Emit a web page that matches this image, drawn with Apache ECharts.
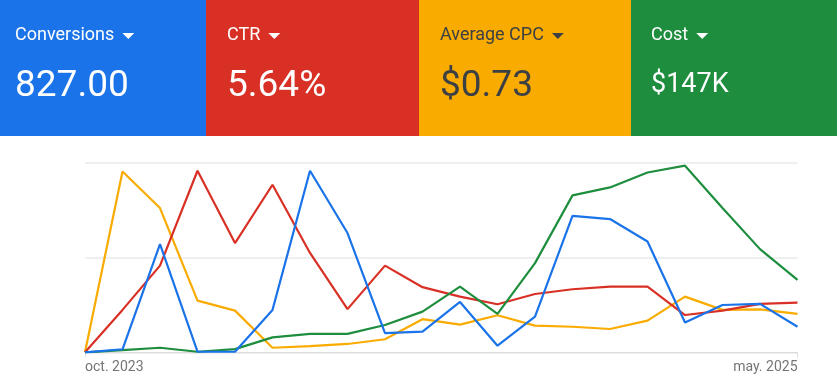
<!DOCTYPE html>
<html>
<head>
<meta charset="utf-8">
<script src="https://cdn.jsdelivr.net/npm/echarts@6/dist/echarts.min.js"></script>
<style>
html,body{margin:0;padding:0;background:#fff;}
#chart{width:837px;height:390px;}
</style>
</head>
<body>
<div id="chart"></div>
<script>
// Categories (months)
const months = ['oct. 2023','nov. 2023','dic. 2023','ene. 2024','feb. 2024','mar. 2024','abr. 2024','may. 2024','jun. 2024','jul. 2024','ago. 2024','sept. 2024','oct. 2024','nov. 2024','dic. 2024','ene. 2025','feb. 2025','mar. 2025','abr. 2025','may. 2025'];

// Series values (normalized 0-100 for each metric)
const conversions = [0, 1.6, 57.1, 0.3, 0.3, 22.4, 95.9, 63.0, 10.1, 10.9, 26.6, 3.5, 18.8, 72.1, 70.4, 58.5, 15.7, 25.0, 25.6, 13.5];
const ctr = [0, 22.4, 45.8, 95.9, 57.7, 88.5, 52.5, 22.8, 45.8, 34.4, 29.4, 25.4, 30.8, 33.3, 34.7, 34.7, 19.7, 22.0, 25.6, 26.2];
const avgCpc = [0, 95.5, 76.2, 27.3, 22.0, 2.4, 3.3, 4.4, 6.9, 17.5, 14.6, 19.6, 14.1, 13.5, 12.3, 16.7, 29.4, 22.4, 22.7, 20.3];
const cost = [0, 1.2, 2.4, 0.3, 1.7, 7.9, 9.7, 9.7, 14.4, 21.5, 34.7, 20.3, 47.1, 82.9, 87.1, 95.0, 98.6, 76.2, 54.5, 38.3];

// Scorecards
const cardTitles = ['Conversions', 'CTR', 'Average CPC', 'Cost'];
const cardValues = ['827.00', '5.64%', '$0.73', '$147K'];

const cardColors = ['#1a73e8', '#d93025', '#f9ab00', '#1e8e3e'];
const cardText = ['#ffffff', '#ffffff', '#3c4043', '#ffffff'];
const cardX = [0, 206, 419, 631, 837];
const cardPad = [15, 21, 21, 20];
const valueSize = [37, 37, 37, 27];
const valueTop = [68, 68, 68, 72];
const FONT = 'Roboto, Arial, sans-serif';
const TITLE_FONT = '400 18px ' + FONT;

const ctx = document.createElement('canvas').getContext('2d');
ctx.font = TITLE_FONT;

const graphics = [];
for (let i = 0; i < 4; i++) {
  const x0 = cardX[i];
  const lx = x0 + cardPad[i];
  graphics.push({
    type: 'rect', left: x0, top: 0, silent: true,
    shape: { width: cardX[i + 1] - x0, height: 136 },
    style: { fill: cardColors[i] }
  });
  graphics.push({
    type: 'text', left: lx, top: 26, silent: true,
    style: { text: cardTitles[i], fill: cardText[i], font: TITLE_FONT }
  });
  graphics.push({
    type: 'text', left: lx, top: valueTop[i], silent: true,
    style: { text: cardValues[i], fill: cardText[i], font: '400 ' + valueSize[i] + 'px ' + FONT }
  });
  const w = ctx.measureText(cardTitles[i]).width;
  const tx = lx + w + 8;
  graphics.push({
    type: 'polygon', silent: true,
    shape: { points: [[tx, 33], [tx + 12, 33], [tx + 6, 39]] },
    style: { fill: cardText[i] }
  });
}

const chart = echarts.init(document.getElementById('chart'), null, { renderer: 'canvas' });

function lineSeries(name, data, color) {
  return {
    name, type: 'line', data,
    symbol: 'none', smooth: false,
    lineStyle: { color, width: 2.2 },
    itemStyle: { color },
    z: 3
  };
}

chart.setOption({
  animation: false,
  grid: { left: 85, right: 39.5, top: 163, bottom: 37.7 },
  xAxis: {
    type: 'category', data: months, boundaryGap: false,
    axisLine: { show: true, lineStyle: { color: '#dadce0', width: 1 } },
    axisTick: {
      show: true, length: 5, lineStyle: { color: '#dadce0' },
      interval: (idx) => idx === 0 || idx === months.length - 1
    },
    axisLabel: {
      show: true, color: '#757575', fontSize: 14, fontFamily: FONT, margin: 8,
      interval: (idx) => idx === 0 || idx === months.length - 1,
      alignMinLabel: 'left', alignMaxLabel: 'right'
    },
    splitLine: { show: false }
  },
  yAxis: {
    type: 'value', min: 0, max: 100, interval: 50,
    axisLine: { show: false }, axisTick: { show: false }, axisLabel: { show: false },
    splitLine: { show: true, lineStyle: { color: '#e8eaed', width: 1.5 } }
  },
  series: [
    lineSeries('Average CPC', avgCpc, '#f9ab00'),
    lineSeries('CTR', ctr, '#d93025'),
    lineSeries('Cost', cost, '#1e8e3e'),
    lineSeries('Conversions', conversions, '#1a73e8')
  ],
  graphic: graphics
});
</script>
</body>
</html>
